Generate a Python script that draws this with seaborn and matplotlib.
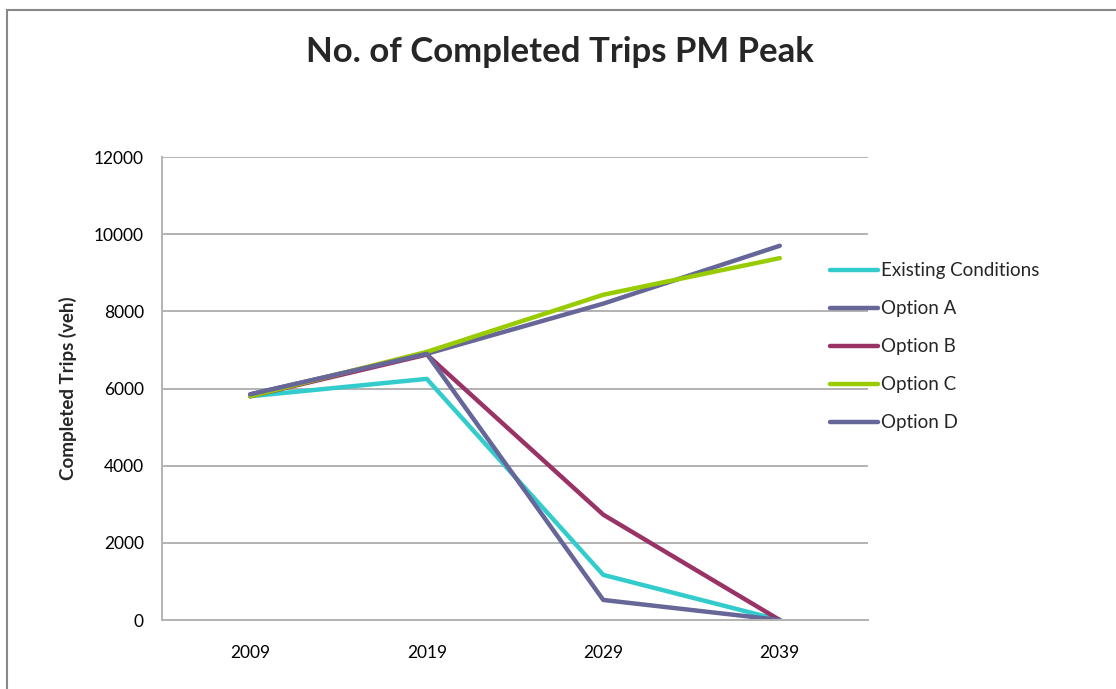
import pandas as pd
import matplotlib.pyplot as plt
import seaborn as sns
from matplotlib.patches import Rectangle

# chart data
years = ["2009", "2019", "2029", "2039"]
existing = [5800, 6250, 1170, 0]
option_a = [5850, 6900, 8200, 9700]
option_b = [5800, 6880, 2730, 0]
option_c = [5800, 6950, 8430, 9380]
option_d = [5850, 6900, 520, 0]

series_names = ["Existing Conditions", "Option A", "Option B", "Option C", "Option D"]
series_vals = [existing, option_a, option_b, option_c, option_d]
colors = ["#33CCCC", "#666699", "#993366", "#99CC00", "#666699"]

rows = []
for name, vals in zip(series_names, series_vals):
    for i, v in enumerate(vals):
        rows.append({"pos": i, "year": years[i], "trips": v, "series": name})
df = pd.DataFrame(rows)

sns.set_style("white")
plt.rcParams["font.family"] = ["Lato", "DejaVu Sans"]

fig = plt.figure(figsize=(11.16, 6.89), dpi=100)
ax = fig.add_axes([0.1452, 0.1001, 0.6326, 0.672])

sns.lineplot(data=df, x="pos", y="trips", hue="series", hue_order=series_names,
             palette=dict(zip(series_names, colors)), linewidth=3.2, ax=ax,
             sort=False, estimator=None, legend=False)

ax.set_xlim(-0.5, 3.5)
ax.set_ylim(0, 12000)
ax.set_xticks(range(len(years)))
ax.set_xticklabels(years)
ax.set_yticks(range(0, 12001, 2000))
ax.tick_params(axis="both", length=0, labelsize=12.5, colors="black")
ax.tick_params(axis="y", pad=13)
ax.tick_params(axis="x", pad=18)
ax.yaxis.grid(True, color="#a6a6a6", linewidth=1.2)
ax.set_axisbelow(True)
for s in ["top", "right"]:
    ax.spines[s].set_visible(False)
for s in ["left", "bottom"]:
    ax.spines[s].set_color("#b3b3b3")
    ax.spines[s].set_linewidth(1.4)

ax.set_xlabel("")
ax.set_ylabel("Completed Trips (veh)", fontsize=13.5, fontweight="bold", labelpad=12)

fig.suptitle("No. of Completed Trips PM Peak", x=0.502, y=0.948, fontsize=25,
             fontweight="bold")

handles = [plt.Line2D([], [], color=c, linewidth=3.2) for c in colors]
fig.legend(handles, series_names, loc="upper left", bbox_to_anchor=(0.729, 0.644),
           frameon=False, fontsize=13.5, handlelength=2.56, handletextpad=0.16,
           labelspacing=1.12)

# outer chart border
fig.patches.append(Rectangle((0.0063, -0.1), 1.2, 0.9855 + 0.1, transform=fig.transFigure,
                             fill=False, edgecolor="#888888", linewidth=1.5))

fig.savefig("out.png", dpi=100)
